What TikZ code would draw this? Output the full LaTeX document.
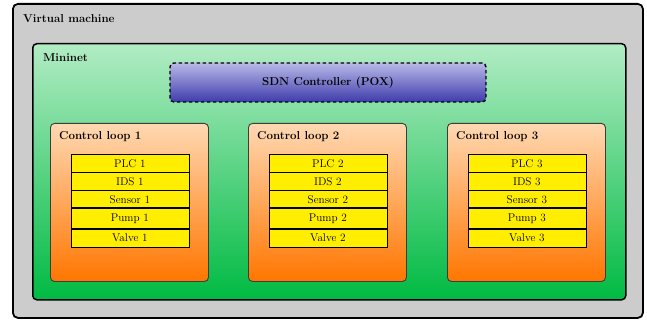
\documentclass[tikz,border=0pt]{standalone}
\usetikzlibrary{positioning}
\definecolor{vmgray}{RGB}{204,204,204}
\definecolor{mnTop}{RGB}{178,236,196}
\definecolor{mnBot}{RGB}{0,186,66}
\definecolor{sdnTop}{RGB}{184,184,232}
\definecolor{sdnBot}{RGB}{62,60,172}
\definecolor{clTop}{RGB}{255,216,178}
\definecolor{clBot}{RGB}{255,118,0}
\definecolor{devYellow}{RGB}{255,238,0}
\definecolor{clBorder}{RGB}{60,60,60}
\tikzset{
  vmbox/.style={draw=black, line width=1.8pt, fill=vmgray, rounded corners=5pt,
    anchor=north west, inner sep=0pt},
  mnbox/.style={draw=black, line width=1.5pt, top color=mnTop, bottom color=mnBot,
    rounded corners=4pt, anchor=north west, inner sep=0pt},
  sdnbox/.style={draw=black, line width=1.4pt, dash pattern=on 3.5pt off 2.5pt,
    top color=sdnTop, bottom color=sdnBot, rounded corners=4pt,
    font=\fontsize{11.5}{13}\selectfont\bfseries},
  loopbox/.style={draw=clBorder, line width=0.9pt, top color=clTop, bottom color=clBot,
    rounded corners=4pt, anchor=north west, inner sep=0pt,
    minimum width=158pt, minimum height=158pt},
  devrow/.style={draw=black, line width=0.7pt, fill=devYellow, anchor=north west,
    minimum width=118pt, inner sep=0pt, font=\fontsize{11.2}{12}\selectfont},
  boxlabel/.style={anchor=base west, inner sep=0pt, font=\fontsize{11.5}{13}\selectfont\bfseries}
}
\begin{document}
\begin{tikzpicture}[x=1pt, y=-1pt]
  \useasboundingbox (0,0) rectangle (647,320);
  % virtual machine
  \node[vmbox, minimum width=630pt, minimum height=314pt] (vm) at (12,3) {};
  \node[boxlabel] (vmlabel) at (23,23) {Virtual machine};
  % mininet
  \node[mnbox, minimum width=593pt, minimum height=256pt] (mn) at (32,43) {};
  \node[boxlabel] (mnlabel) at (43,62) {Mininet};
  % controller
  \node[sdnbox, minimum width=316pt, minimum height=39pt] (sdn) at (328,82.5) {SDN Controller (POX)};
  % control loops
  \foreach \i/\dx in {1/0, 2/198, 3/397} {
    \node[loopbox] (loop\i) at (50+\dx,123) {};
    \node[boxlabel] (looplabel\i) at (59+\dx,140) {Control loop \i};
    \node[devrow, minimum height=17.4pt] (plc\i) at (70.5+\dx,154.3) {PLC \i};
    \node[devrow, minimum height=17.3pt] (ids\i) at (plc\i.south west) {IDS \i};
    \node[devrow, minimum height=17pt] (sensor\i) at (ids\i.south west) {Sensor \i};
    \node[devrow, minimum height=20.3pt] (pump\i) at (sensor\i.south west) {Pump \i};
    \node[devrow, minimum height=17.4pt] (valve\i) at (pump\i.south west) {Valve \i};
  }
\end{tikzpicture}
\end{document}
